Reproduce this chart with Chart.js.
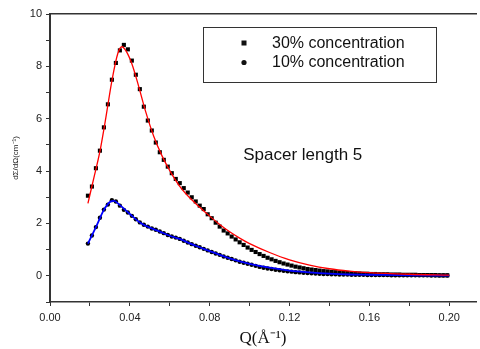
<!DOCTYPE html>
<html>
<head>
<meta charset="utf-8">
<script src="https://cdn.jsdelivr.net/npm/chart.js@4/dist/chart.umd.min.js"></script>
<style>
html, body { margin: 0; padding: 0; background: #fff; }
</style>
</head>
<body>
<canvas id="grafico" width="480" height="349"></canvas>
<script>
// Q values (A^-1) of the measured points
let q = [
    0.019, 0.021, 0.023, 0.025, 0.027, 0.029, 0.031, 0.033, 0.035, 0.037,
    0.039, 0.041, 0.043, 0.045, 0.047, 0.049, 0.051, 0.053, 0.055, 0.057,
    0.059, 0.061, 0.063, 0.065, 0.067, 0.069, 0.071, 0.073, 0.075, 0.077,
    0.079, 0.081, 0.083, 0.085, 0.087, 0.089, 0.091, 0.093, 0.095, 0.097,
    0.099, 0.101, 0.103, 0.105, 0.107, 0.109, 0.111, 0.113, 0.115, 0.117,
    0.119, 0.121, 0.123, 0.125, 0.127, 0.129, 0.131, 0.133, 0.135, 0.137,
    0.139, 0.141, 0.143, 0.145, 0.147, 0.149, 0.151, 0.153, 0.155, 0.157,
    0.159, 0.161, 0.163, 0.165, 0.167, 0.169, 0.171, 0.173, 0.175, 0.177,
    0.179, 0.181, 0.183, 0.185, 0.187, 0.189, 0.191, 0.193, 0.195, 0.197,
    0.199
]

let conc30 = [
    3.06, 3.41, 4.11, 4.78, 5.67, 6.55, 7.49, 8.13, 8.61, 8.82,
    8.65, 8.22, 7.68, 7.13, 6.46, 5.93, 5.55, 5.09, 4.72, 4.43,
    4.17, 3.92, 3.70, 3.54, 3.35, 3.18, 3.00, 2.84, 2.68, 2.55,
    2.35, 2.20, 2.03, 1.88, 1.73, 1.62, 1.50, 1.39, 1.28, 1.18,
    1.08, 0.99, 0.91, 0.83, 0.76, 0.69, 0.63, 0.57, 0.52, 0.47,
    0.43, 0.39, 0.35, 0.32, 0.29, 0.26, 0.24, 0.22, 0.20, 0.18,
    0.17, 0.15, 0.14, 0.13, 0.12, 0.11, 0.10, 0.10, 0.09, 0.08,
    0.08, 0.07, 0.07, 0.06, 0.06, 0.06, 0.05, 0.05, 0.05, 0.04,
    0.04, 0.04, 0.04, 0.03, 0.03, 0.03, 0.03, 0.03, 0.02, 0.02,
    0.02
]

let conc10 = [
    1.23, 1.54, 1.86, 2.22, 2.53, 2.72, 2.89, 2.84, 2.68, 2.52,
    2.42, 2.29, 2.16, 2.04, 1.95, 1.88, 1.81, 1.76, 1.69, 1.63,
    1.56, 1.50, 1.46, 1.41, 1.34, 1.27, 1.21, 1.15, 1.09, 1.03,
    0.97, 0.91, 0.85, 0.80, 0.74, 0.69, 0.64, 0.59, 0.54, 0.50,
    0.46, 0.42, 0.38, 0.34, 0.31, 0.28, 0.26, 0.23, 0.21, 0.19,
    0.17, 0.16, 0.14, 0.13, 0.12, 0.11, 0.10, 0.09, 0.08, 0.07,
    0.07, 0.06, 0.06, 0.05, 0.05, 0.05, 0.04, 0.04, 0.04, 0.04,
    0.03, 0.03, 0.03, 0.03, 0.03, 0.03, 0.02, 0.02, 0.02, 0.02,
    0.02, 0.02, 0.02, 0.02, 0.02, 0.02, 0.01, 0.01, 0.01, 0.01,
    0.01
]

// fitted curves
let fitQ30 = [0.019, 0.022, 0.025, 0.028, 0.031, 0.034, 0.036, 0.038, 0.041, 0.044, 0.048, 0.052, 0.056, 0.060, 0.065,
    0.070, 0.075, 0.080, 0.085, 0.090, 0.095, 0.100, 0.110, 0.120, 0.130, 0.140, 0.150, 0.160, 0.180, 0.200]
let fit30 = [2.77, 3.75, 4.75, 6.05, 7.45, 8.50, 8.75, 8.60, 8.10, 7.35, 6.25, 5.32, 4.60, 4.02, 3.42,
    2.98, 2.62, 2.28, 1.96, 1.68, 1.44, 1.23, 0.89, 0.61, 0.41, 0.27, 0.18, 0.12, 0.06, 0.03]

let fitQ10 = [0.019, 0.023, 0.027, 0.030, 0.032, 0.035, 0.040, 0.045, 0.050, 0.055, 0.060, 0.065, 0.070, 0.075,
    0.080, 0.085, 0.090, 0.095, 0.100, 0.110, 0.120, 0.130, 0.140, 0.150, 0.160, 0.180, 0.200]
let fit10 = [1.23, 1.86, 2.52, 2.82, 2.86, 2.70, 2.36, 2.04, 1.84, 1.69, 1.53, 1.41, 1.24, 1.09,
    0.94, 0.80, 0.67, 0.55, 0.46, 0.31, 0.20, 0.13, 0.08, 0.05, 0.04, 0.02, 0.01]

let xTicks = [0, 0.02, 0.04, 0.06, 0.08, 0.10, 0.12, 0.14, 0.16, 0.18, 0.20]
let xTickLabels = ['0.00', '', '0.04', '', '0.08', '', '0.12', '', '0.16', '', '0.20']
let yTicks = [-1, 0, 1, 2, 3, 4, 5, 6, 7, 8, 9, 10]
let yTickLabels = ['', '0', '', '2', '', '4', '', '6', '', '8', '', '10']

let legendNames = ['30% concentration', '10% concentration']
let note = 'Spacer length 5'

function pares(xs, ys) {
    return xs.map((v, i) => ({ x: v, y: ys[i] }))
}

const fonte = 'Arial, "Liberation Sans", sans-serif'
const corEixo = '#333'

// legend box and the text note, drawn inside the plot
const extras = {
    id: 'extras',
    afterDraw(chart) {
        const ctx = chart.ctx
        const sx = chart.scales.x
        const sy = chart.scales.y
        ctx.save()

        ctx.strokeStyle = corEixo
        ctx.lineWidth = 1
        ctx.strokeRect(203.5, 27.5, 233, 55)

        ctx.font = '16px ' + fonte
        ctx.fillStyle = '#111'
        ctx.textBaseline = 'middle'
        ctx.textAlign = 'left'

        // square marker
        ctx.fillRect(241.5, 40.5, 5, 5)
        ctx.fillText(legendNames[0], 272, 43.5)

        ctx.beginPath()
        ctx.arc(244, 62.5, 2.6, 0, Math.PI * 2)
        ctx.fill()
        ctx.fillText(legendNames[1], 272, 62.5)

        ctx.font = '17px ' + fonte
        ctx.textAlign = 'center'
        ctx.fillText(note, sx.getPixelForValue(0.1266), sy.getPixelForValue(4.62))

        ctx.restore()
    }
}

let ctx = document.getElementById('grafico').getContext('2d')
new Chart(ctx, {
    type: 'scatter',
    data: {
        datasets: [{
            label: 'fit 30%',
            data: pares(fitQ30, fit30),
            showLine: true,
            borderColor: '#ff0000',
            borderWidth: 1.3,
            pointRadius: 0,
            cubicInterpolationMode: 'monotone'
        }, {
            label: 'fit 10%',
            data: pares(fitQ10, fit10),
            showLine: true,
            borderColor: '#0000ff',
            borderWidth: 1.8,
            pointRadius: 0,
            cubicInterpolationMode: 'monotone'
        }, {
            label: legendNames[0],
            data: pares(q, conc30),
            pointStyle: 'rect',
            pointRadius: 2.9,
            backgroundColor: '#000',
            borderWidth: 0
        }, {
            label: legendNames[1],
            data: pares(q, conc10),
            pointStyle: 'circle',
            pointRadius: 2.2,
            backgroundColor: '#000',
            borderWidth: 0
        }]
    },
    options: {
        responsive: false,
        animation: false,
        devicePixelRatio: 1,
        layout: { padding: 0 },
        plugins: {
            legend: { display: false },
            tooltip: { enabled: false }
        },
        scales: {
            x: {
                type: 'linear',
                min: 0,
                max: 0.2134,
                afterBuildTicks: s => { s.ticks = xTicks.map(v => ({ value: v })) },
                afterFit: s => { s.height = 47 },
                ticks: {
                    autoSkip: false,
                    maxRotation: 0,
                    padding: 5,
                    color: '#222',
                    font: { family: fonte, size: 11 },
                    callback: (v, i) => xTickLabels[i]
                },
                grid: { drawOnChartArea: false, tickLength: 4, color: corEixo, tickWidth: 1 },
                border: { color: corEixo, width: 1.5 },
                title: {
                    display: true,
                    text: 'Q(Å⁻¹)',
                    color: '#111',
                    font: { family: '"Liberation Serif", "Times New Roman", serif', size: 17 },
                    padding: { top: 0, bottom: 0 }
                }
            },
            x2: {
                type: 'linear',
                position: 'top',
                min: 0,
                max: 0.2134,
                afterFit: s => { s.height = 14 },
                ticks: { display: false },
                grid: { display: false, drawTicks: false },
                border: { display: true, color: corEixo, width: 1.5 }
            },
            y: {
                min: -1,
                max: 10,
                afterBuildTicks: s => { s.ticks = yTicks.map(v => ({ value: v })) },
                afterFit: s => { s.width = 50 },
                ticks: {
                    autoSkip: false,
                    padding: 4,
                    color: '#222',
                    font: { family: fonte, size: 11 },
                    callback: (v, i) => yTickLabels[i]
                },
                grid: { drawOnChartArea: false, tickLength: 4, color: corEixo, tickWidth: 1 },
                border: { color: corEixo, width: 2 },
                title: {
                    display: true,
                    text: 'dΣ/dΩ(cm⁻¹)',
                    color: '#222',
                    font: { family: fonte, size: 8 },
                    padding: { top: 11, bottom: 0 }
                }
            }
        }
    },
    plugins: [extras]
})
</script>
</body>
</html>
